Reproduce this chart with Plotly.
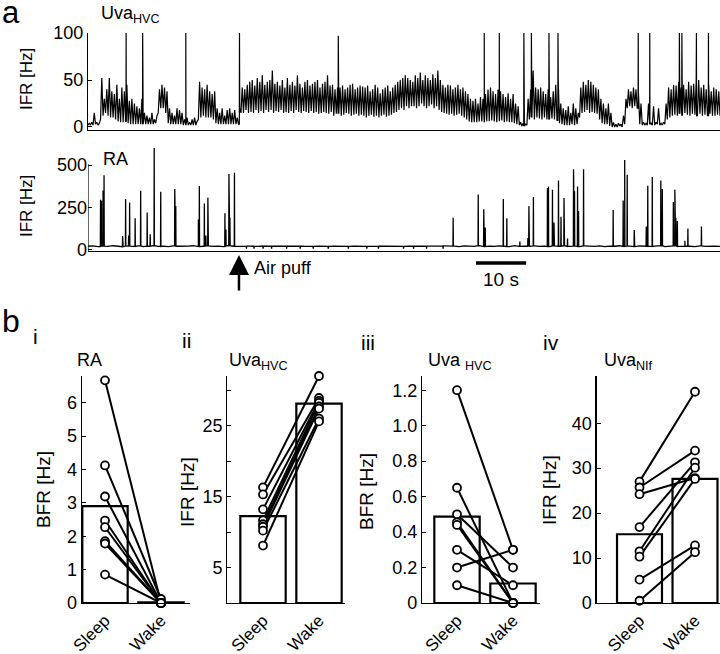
import plotly.graph_objects as go

W, H = 720, 654
FONT = "Liberation Sans, Arial, sans-serif"

# ---------------- panel a data ----------------
# Uva_HVC IFR: min / max envelope in 0.5 s bins (t = 0 ... 126 s)
UVA_STEP = 0.5
uva_lo = [
    2, 2, 2, 3, 2, 8, 12, 15, 12, 10,
    10, 8, 6, 5, 5, 6, 4, 3, 3, 3,
    3, 3, 3, 3, 3, 3, 3, 4, 15, 20,
    20, 15, 4, 3, 3, 3, 3, 3, 2, 2,
    2, 2, 2, 2, 8, 10, 12, 10, 10, 10,
    8, 4, 3, 3, 3, 3, 3, 3, 3, 3,
    3, 15, 15, 18, 15, 16, 15, 18, 15, 17,
    15, 18, 16, 18, 15, 17, 16, 18, 15, 16,
    15, 17, 15, 18, 16, 15, 17, 16, 15, 17,
    15, 16, 14, 15, 16, 15, 14, 16, 12, 14,
    14, 12, 13, 15, 14, 12, 13, 14, 12, 13,
    12, 10, 12, 13, 11, 12, 10, 12, 13, 11,
    12, 13, 15, 16, 18, 20, 18, 22, 20, 22,
    22, 20, 22, 25, 22, 20, 22, 24, 20, 22,
    18, 16, 15, 14, 13, 14, 12, 13, 14, 12,
    10, 8, 6, 5, 5, 5, 6, 6, 5, 6,
    6, 7, 6, 5, 6, 7, 5, 6, 5, 5,
    4, 3, 2, 1, 1, 2, 8, 10, 8, 10,
    9, 8, 10, 8, 8, 9, 8, 7, 4, 3,
    2, 2, 2, 3, 2, 3, 10, 15, 16, 18,
    15, 16, 15, 14, 8, 4, 3, 3, 1, 0,
    0, 0, 1, 0, 3, 20, 22, 20, 22, 20,
    3, 2, 2, 2, 3, 2, 2, 3, 2, 2,
    3, 8, 10, 12, 13, 12, 14, 12, 15, 13,
    12, 14, 13, 12, 14, 12, 13, 12, 14, 12,
    12, 13, 12,
]
uva_hi = [
    4, 5, 15, 5, 4, 52, 30, 40, 52, 38,
    35, 45, 30, 42, 38, 45, 28, 30, 25, 22,
    20, 30, 15, 12, 10, 15, 8, 12, 40, 45,
    42, 38, 20, 15, 12, 20, 18, 15, 8, 10,
    5, 8, 10, 6, 48, 42, 40, 45, 38, 35,
    38, 20, 15, 20, 12, 18, 20, 15, 18, 10,
    20, 42, 40, 45, 48, 50, 44, 52, 48, 55,
    45, 48, 50, 60, 46, 48, 44, 50, 42, 52,
    45, 48, 44, 55, 46, 42, 48, 50, 44, 46,
    48, 50, 42, 46, 48, 55, 44, 45, 40, 42,
    42, 44, 40, 42, 45, 46, 40, 42, 44, 43,
    42, 44, 38, 40, 45, 42, 36, 40, 42, 44,
    38, 42, 45, 48, 50, 52, 55, 52, 50, 48,
    55, 52, 58, 50, 55, 52, 50, 56, 52, 60,
    50, 45, 42, 45, 44, 40, 42, 45, 40, 42,
    38, 35, 30, 28, 30, 25, 32, 30, 35, 40,
    42, 38, 35, 40, 38, 35, 32, 36, 30, 35,
    25, 22, 5, 4, 3, 30, 40, 60, 42, 40,
    42, 38, 35, 40, 32, 38, 45, 50, 25, 20,
    18, 22, 15, 25, 20, 15, 42, 48, 45, 50,
    48, 45, 42, 40, 30, 25, 20, 25, 15, 5,
    3, 4, 3, 12, 30, 40, 38, 42, 40, 36,
    25, 5, 4, 25, 4, 22, 5, 20, 4, 5,
    25, 42, 40, 45, 44, 48, 42, 45, 40, 48,
    44, 46, 48, 50, 42, 45, 40, 45, 38, 42,
    40, 38, 35,
]
uva_spike_t = [7.6, 10.9, 19.5, 30.2, 49.9, 79.0, 82.0, 86.9, 88.4, 91.9,
               93.7, 109.7, 112.0, 117.9, 118.4, 121.3, 123.7]
uva_spike_v = [100, 100, 100, 100, 97, 100, 100, 100, 100, 100,
               100, 100, 100, 100, 100, 100, 100]

# RA IFR baseline, 1 s bins
RA_STEP = 1.0
ra_ifr = [
    22, 24, 20, 23, 21, 25, 22, 19, 23, 21,
    24, 20, 22, 25, 21, 23, 20, 24, 22, 21,
    23, 25, 20, 22, 24, 21, 23, 20, 25, 22,
    21, 22, 23, 22, 21, 23, 22, 22, 21, 23,
    22, 21, 23, 22, 22, 21, 23, 22, 21, 22,
    23, 22, 21, 22, 23, 22, 21, 23, 22, 22,
    21, 23, 22, 21, 22, 23, 22, 21, 23, 22,
    22, 24, 21, 23, 20, 24, 22, 21, 25, 20,
    23, 21, 24, 22, 20, 25, 21, 23, 22, 24,
    21, 23, 20, 24, 22, 25, 21, 23, 20, 24,
    22, 21, 24, 20, 23, 22, 25, 21, 23, 20,
    24, 22, 21, 23, 25, 20, 22, 24, 21, 23,
    22, 20, 24, 21, 23, 22, 21,
]
ra_burst_t = [2.5, 2.7, 3.0, 3.2, 6.9, 7.5, 8.1, 8.3, 9.4, 10.5, 11.8, 12.4, 13.2,
              14.5, 17.3, 17.5, 22.0, 22.2, 23.2, 23.5, 23.9, 27.3, 27.5, 28.1,
              28.3, 29.2,
              72.8, 77.8, 78.9, 79.2, 82.8, 83.5, 86.1, 87.7, 87.9, 88.8, 91.6,
              91.8, 92.6, 92.9, 93.8, 94.3, 94.9, 95.6, 96.8, 97.0, 97.6, 97.8,
              98.8, 104.7, 106.7, 107.0, 107.5, 108.9, 111.3, 111.6, 112.5,
              114.2, 114.5, 116.7, 117.0, 117.2, 117.5, 119.0, 119.6, 122.3]
ra_burst_v = [295, 290, 350, 440, 82, 300, 85, 280, 186, 349, 220, 92, 600,
              343, 359, 259, 180, 376, 274, 85, 308, 216, 120, 447,
              190, 455,
              190, 326, 239, 132, 300, 186, 50, 70, 258, 312, 365,
              374, 355, 161, 409, 196, 306, 68, 475, 345, 374, 229,
              475, 235, 291, 530, 442, 118, 138, 378, 429,
              409, 359, 283, 355, 190, 171, 54, 126, 138]
ra_dip_t = [31.6, 33.1, 34.9, 36.6, 39.6, 42.3, 44.9, 47.9, 51.9,
            55.6, 57.9, 62.9, 64.9, 67.5, 70.8]
ra_dip_v = [8, 8, 8, 8, 8, 8, 8, 8, 8, 8, 8, 8, 8, 8, 8]

# ---------------- panel b data ----------------
conditions = ["Sleep", "Wake"]
ra_bfr_sleep = [6.67, 4.12, 3.19, 2.47, 2.27, 1.85, 1.78, 0.85]
ra_bfr_wake = [0.0, 0.12, 0.0, 0.0, 0.0, 0.0, 0.0, 0.0]
ra_bfr_bar = [2.9, 0.02]

uvahvc_ifr_sleep = [16.3, 15.3, 13.2, 11.65, 11.1, 10.75, 10.2, 8.1]
uvahvc_ifr_wake = [32.0, 28.9, 28.5, 28.2, 27.7, 27.4, 26.0, 25.6]
uvahvc_ifr_bar = [12.25, 28.1]

uvahvc_bfr_sleep = [1.2, 0.65, 0.5, 0.455, 0.44, 0.3, 0.2, 0.1]
uvahvc_bfr_wake = [0.3, 0.0, 0.2, 0.0, 0.0, 0.1, 0.3, 0.0]
uvahvc_bfr_bar = [0.487, 0.11]

uvanif_ifr_sleep = [27.0, 25.7, 24.2, 16.9, 11.5, 10.3, 5.2, 0.5]
uvanif_ifr_wake = [47.0, 33.9, 27.8, 31.3, 30.1, 27.6, 12.8, 11.3]
uvanif_ifr_bar = [15.3, 27.6]


def px(x):
    return x / W


def py(y):
    return (H - y) / H


def envelope_trace(step, lo, hi, ev_t, ev_v, half):
    pts = []
    for i, (a, b) in enumerate(zip(lo, hi)):
        pts.append((i * step, a))
        pts.append((i * step + step / 2, b))
    for et, ev in zip(ev_t, ev_v):
        foot = lo[min(len(lo) - 1, int(round(et / step)))]
        pts += [(et - half, foot), (et, ev), (et + half, foot)]
    pts.sort()
    return [p[0] for p in pts], [p[1] for p in pts]


def event_trace(step, base, ev_t, ev_v, half):
    pts = [(i * step, v) for i, v in enumerate(base)]
    for et, ev in zip(ev_t, ev_v):
        foot = base[min(len(base) - 1, int(round(et / step)))]
        pts += [(et - half, foot), (et, ev), (et + half, foot)]
    pts.sort()
    return [p[0] for p in pts], [p[1] for p in pts]


fig = go.Figure()

ux, uy = envelope_trace(UVA_STEP, uva_lo, uva_hi, uva_spike_t, uva_spike_v, 0.03)
fig.add_trace(go.Scatter(x=ux, y=uy, mode="lines", line=dict(color="black", width=1.2),
                         xaxis="x", yaxis="y", hoverinfo="skip"))

rx, ry = event_trace(RA_STEP, ra_ifr, ra_burst_t + ra_dip_t, ra_burst_v + ra_dip_v, 0.04)
fig.add_trace(go.Scatter(x=rx, y=ry, mode="lines", line=dict(color="black", width=1.3),
                         xaxis="x2", yaxis="y2", hoverinfo="skip"))

panels = [
    (ra_bfr_sleep, ra_bfr_wake, ra_bfr_bar, "x3", "y3"),
    (uvahvc_ifr_sleep, uvahvc_ifr_wake, uvahvc_ifr_bar, "x4", "y4"),
    (uvahvc_bfr_sleep, uvahvc_bfr_wake, uvahvc_bfr_bar, "x5", "y5"),
    (uvanif_ifr_sleep, uvanif_ifr_wake, uvanif_ifr_bar, "x6", "y6"),
]
for s, w, bar, xa, ya in panels:
    fig.add_trace(go.Bar(x=[0, 1], y=bar, width=0.81, marker=dict(color="white",
                         line=dict(color="black", width=2.2)), cliponaxis=False,
                         xaxis=xa, yaxis=ya, hoverinfo="skip"))
    lx, ly = [], []
    for a, b in zip(s, w):
        lx += [0, 1, None]
        ly += [a, b, None]
    fig.add_trace(go.Scatter(x=lx, y=ly, mode="lines+markers", cliponaxis=False,
                             line=dict(color="black", width=2),
                             marker=dict(symbol="circle", size=8, color="white",
                                         line=dict(color="black", width=1.8)),
                             xaxis=xa, yaxis=ya, hoverinfo="skip"))

tickfont = dict(family=FONT, size=18, color="black")

common_y = dict(showgrid=False, zeroline=False, showline=True, linecolor="black",
                linewidth=1.2, ticks="inside", ticklen=4, tickcolor="black",
                tickfont=tickfont, automargin=False)
common_x_top = dict(showgrid=False, zeroline=False, showline=True, linecolor="black",
                    linewidth=1.2, ticks="", showticklabels=False, range=[0, 126],
                    domain=[px(88), 1.0], automargin=False)

layout = dict(
    template="none",
    width=W, height=H, margin=dict(l=0, r=0, t=0, b=0, pad=0, autoexpand=False),
    paper_bgcolor="white", plot_bgcolor="white", showlegend=False,
    bargap=0,
    xaxis=dict(**common_x_top, anchor="y"),
    yaxis=dict(**common_y, domain=[py(130), py(33)], range=[-3.2, 100],
               tickvals=[0, 50, 100], anchor="x"),
    xaxis2=dict(**common_x_top, anchor="y2"),
    yaxis2=dict(showgrid=False, zeroline=False, showline=False, ticks="inside",
                ticklen=4, tickcolor="black", tickfont=tickfont, automargin=False,
                domain=[py(251), py(141.2)], range=[-6, 640],
                tickvals=[0, 250, 500], anchor="x2"),
)

bx = [
    (81.7, 190.0, 105.0, 56.0, 6.8, [0, 1, 2, 3, 4, 5, 6], ["0", "1", "2", "3", "4", "5", "6"]),
    (227.3, 345.0, 263.0, 56.0, 32.0, [5, 10, 15, 20, 25, 30], ["5", "", "15", "", "25", ""]),
    (422.0, 540.0, 457.0, 56.0, 1.28, [0, 0.2, 0.4, 0.6, 0.8, 1.0, 1.2],
     ["0", "0.2", "0.4", "0.6", "0.8", "1.0", "1.2"]),
    (596.5, 720.0, 639.5, 55.5, 50.5, [0, 10, 20, 30, 40], ["0", "10", "20", "30", "40"]),
]
for k, (l, r, c0, sc, ytop, tv, tt) in enumerate(bx):
    n = k + 3
    r0 = -(c0 - l) / sc
    r1 = r0 + (r - l) / sc
    layout[f"xaxis{n}"] = dict(domain=[px(l), px(r)], range=[r0, r1], anchor=f"y{n}",
                               showgrid=False, zeroline=False, showline=True,
                               linecolor="black", linewidth=1, ticks="",
                               tickvals=[0, 1], ticktext=conditions, tickangle=-45,
                               automargin=False,
                               tickfont=dict(family=FONT, size=17, color="black"))
    layout[f"yaxis{n}"] = dict(**common_y, domain=[py(603), py(376)], range=[0, ytop],
                               tickvals=tv, ticktext=tt, anchor=f"x{n}")

fig.update_layout(**layout)

# RA y-axis spine (only up to 500 Hz like the original)
fig.add_shape(type="line", xref="x2", yref="y2", x0=0, x1=0, y0=-6, y1=505,
              line=dict(color="black", width=1.2))
# 10 s scale bar
fig.add_shape(type="line", xref="x2", yref="paper", x0=77.35, x1=87.35,
              y0=py(263), y1=py(263), line=dict(color="black", width=3.5))


def ann(text, x, y, size, xanchor="left", yanchor="middle", angle=0):
    fig.add_annotation(text=text, x=px(x), y=py(y), xref="paper", yref="paper",
                       xanchor=xanchor, yanchor=yanchor, showarrow=False,
                       textangle=angle, font=dict(family=FONT, size=size, color="black"))


ann("a", 0, 12, 31)
ann("Uva<sub>HVC</sub>", 99, 15, 18)
ann("RA", 101, 159, 18)
ann("IFR [Hz]", 26, 79, 17, "center", "middle", -90)
ann("IFR [Hz]", 26, 206, 17, "center", "middle", -90)
ann("Air puff", 252, 268, 18)
ann("10 s", 501, 280, 19, "center")

ann("b", 0, 321, 32)
ann("i", 31, 336, 21)
ann("ii", 180, 340, 21)
ann("iii", 359, 342, 21)
ann("iv", 541, 342, 21)
ann("RA", 75, 360, 18)
ann("Uva<sub>HVC</sub>", 227, 362, 18)
ann("Uva <sub>HVC</sub>", 426, 362, 18)
ann("Uva<sub>NIf</sub>", 602, 362, 18)
ann("BFR [Hz]", 43, 490, 19, "center", "middle", -90)
ann("IFR [Hz]", 188, 492, 19, "center", "middle", -90)
ann("BFR [Hz]", 367, 492, 19, "center", "middle", -90)
ann("IFR [Hz]", 549, 490, 19, "center", "middle", -90)

# air puff arrow
fig.add_annotation(text="", x=30.1, y=py(255), xref="x2", yref="paper",
                   showarrow=True, ax=0, ay=37, axref="pixel", ayref="pixel",
                   arrowhead=2, arrowsize=1.6, arrowwidth=2.5, arrowcolor="black",
                   standoff=0)

fig.write_html("out.html",
               config={"displayModeBar": False, "staticPlot": True},
               post_script="document.body.style.margin='0px';"
                           "document.body.style.padding='0px';")
